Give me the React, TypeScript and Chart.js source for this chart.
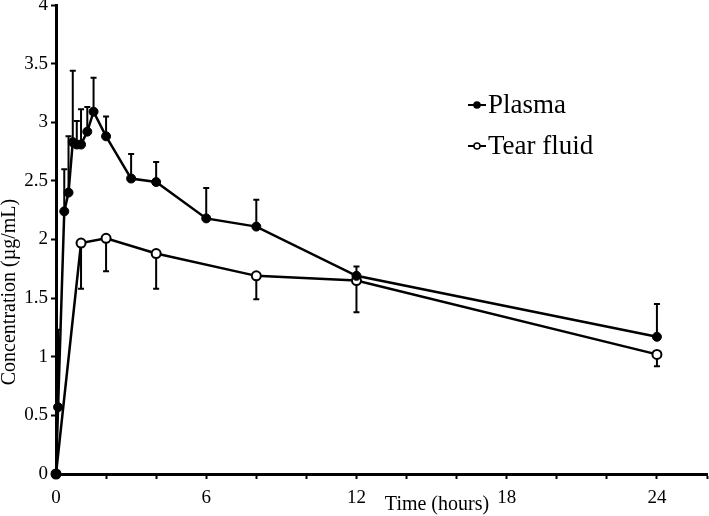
import React, { useEffect, useRef } from 'react';
import { Chart, registerables } from 'chart.js';

Chart.register(...registerables);

// Time points (hours)
const plasmaTimes = [0, 0.083, 0.33, 0.5, 0.67, 0.83, 1, 1.25, 1.5, 2, 3, 4, 6, 8, 12, 24];
const plasmaMean = [0, 0.57, 2.24, 2.4, 2.83, 2.81, 2.81, 2.92, 3.09, 2.88, 2.52, 2.49, 2.18, 2.11, 1.69, 1.17];
const plasmaSD = [0, 0.66, 0.36, 0.48, 0.61, 0.2, 0.3, 0.21, 0.29, 0.17, 0.21, 0.17, 0.26, 0.23, 0.08, 0.28];

const tearTimes = [0, 1, 2, 4, 8, 12, 24];
const tearMean = [0, 1.97, 2.01, 1.88, 1.69, 1.65, 1.02];
const tearSD = [0, 0.39, 0.28, 0.3, 0.2, 0.27, 0.1];

const seriesNames = ['Plasma', 'Tear fluid'];
const xLabelTicks = [0, 6, 12, 18, 24];
const xTitle = 'Time (hours)';
const yTitle = 'Concentration (µg/mL)';

const FONT = '"Liberation Serif", "Times New Roman", serif';

export default function App() {
  const ref = useRef<HTMLCanvasElement>(null);

  useEffect(() => {
    const canvas = ref.current!;

    const errorBars = {
      id: 'errorBars',
      beforeDatasetsDraw(chart: any) {
        const ctx = chart.ctx;
        const xs = chart.scales.x;
        const ys = chart.scales.y;
        const sets = [
          { t: plasmaTimes, m: plasmaMean, sd: plasmaSD, dir: 1 },
          { t: tearTimes, m: tearMean, sd: tearSD, dir: -1 },
        ];
        ctx.save();
        ctx.strokeStyle = '#000';
        ctx.lineWidth = 2;
        for (const s of sets) {
          s.t.forEach((t, i) => {
            if (!s.sd[i]) return;
            const x = xs.getPixelForValue(t);
            const y0 = ys.getPixelForValue(s.m[i]);
            const y1 = ys.getPixelForValue(s.m[i] + s.dir * s.sd[i]);
            ctx.beginPath();
            ctx.moveTo(x, y0);
            ctx.lineTo(x, y1);
            ctx.moveTo(x - 3, y1);
            ctx.lineTo(x + 3, y1);
            ctx.stroke();
          });
        }
        ctx.restore();
      },
    };

    const extras = {
      id: 'extras',
      afterDraw(chart: any) {
        const ctx = chart.ctx;
        ctx.save();
        ctx.fillStyle = '#000';
        ctx.strokeStyle = '#000';
        // axis titles
        ctx.font = `20px ${FONT}`;
        ctx.textAlign = 'center';
        ctx.textBaseline = 'middle';
        ctx.fillText(xTitle, 437, 505);
        ctx.save();
        ctx.translate(10, 292);
        ctx.rotate(-Math.PI / 2);
        ctx.fillText(yTitle, 0, 0);
        ctx.restore();
        // legend
        const items = [
          { y: 105, fill: '#000' },
          { y: 146, fill: '#fff' },
        ];
        ctx.font = `27px ${FONT}`;
        ctx.textAlign = 'left';
        items.forEach((it, i) => {
          ctx.lineWidth = 2;
          ctx.beginPath();
          ctx.moveTo(468, it.y);
          ctx.lineTo(486, it.y);
          ctx.stroke();
          ctx.beginPath();
          ctx.arc(477, it.y, 3, 0, Math.PI * 2);
          ctx.fillStyle = it.fill;
          ctx.fill();
          ctx.lineWidth = 1.5;
          ctx.stroke();
          ctx.fillStyle = '#000';
          ctx.fillText(seriesNames[i], 488, it.y + 1);
        });
        ctx.restore();
      },
    };

    const chart = new Chart(canvas, {
      type: 'line',
      data: {
        datasets: [
          {
            label: seriesNames[0],
            data: plasmaTimes.map((t, i) => ({ x: t, y: plasmaMean[i] })),
            borderColor: '#000',
            backgroundColor: '#000',
            borderWidth: 2.5,
            pointRadius: 4.5,
            pointBorderWidth: 1,
            pointBackgroundColor: '#000',
            pointBorderColor: '#000',
            tension: 0,
            clip: false as any,
          },
          {
            label: seriesNames[1],
            data: tearTimes.map((t, i) => ({ x: t, y: tearMean[i] })),
            borderColor: '#000',
            backgroundColor: '#fff',
            borderWidth: 2.5,
            pointRadius: 4.5,
            pointBorderWidth: 2,
            pointBackgroundColor: '#fff',
            pointBorderColor: '#000',
            tension: 0,
            clip: false as any,
          },
        ],
      },
      options: {
        responsive: false,
        animation: false,
        devicePixelRatio: 1,
        layout: { autoPadding: false, padding: { top: 5, left: 0, right: 2, bottom: 0 } },
        plugins: {
          legend: { display: false },
          tooltip: { enabled: false },
        },
        scales: {
          x: {
            type: 'linear',
            min: 0,
            max: 26,
            afterFit(s: any) {
              s.height = 42;
              s.paddingLeft = 0;
              s.paddingRight = 0;
            },
            border: { display: true, color: '#000', width: 3 },
            grid: {
              display: true,
              drawOnChartArea: false,
              drawTicks: true,
              tickLength: 5,
              tickColor: '#000',
              tickWidth: 2,
            },
            ticks: {
              stepSize: 2,
              autoSkip: false,
              maxRotation: 0,
              padding: 8,
              color: '#000',
              font: { family: FONT, size: 19 },
              callback: (v: any) => (xLabelTicks.includes(Number(v)) ? String(v) : ''),
            },
          },
          y: {
            type: 'linear',
            min: 0,
            max: 4,
            afterFit(s: any) {
              s.width = 56;
              s.paddingTop = 0;
              s.paddingBottom = 0;
            },
            border: { display: true, color: '#000', width: 3 },
            grid: {
              display: true,
              drawOnChartArea: false,
              drawTicks: true,
              tickLength: 5,
              tickColor: '#000',
              tickWidth: 2,
            },
            ticks: {
              stepSize: 0.5,
              padding: 3,
              color: '#000',
              font: { family: FONT, size: 19 },
              callback: (v: any) => String(v),
            },
          },
        },
      },
      plugins: [errorBars, extras],
    });

    return () => chart.destroy();
  }, []);

  return (
    <div style={{ position: 'fixed', left: 0, top: 0, width: 709, height: 516, background: '#fff' }}>
      <canvas ref={ref} width={709} height={516} style={{ display: 'block', width: 709, height: 516 }} />
    </div>
  );
}
